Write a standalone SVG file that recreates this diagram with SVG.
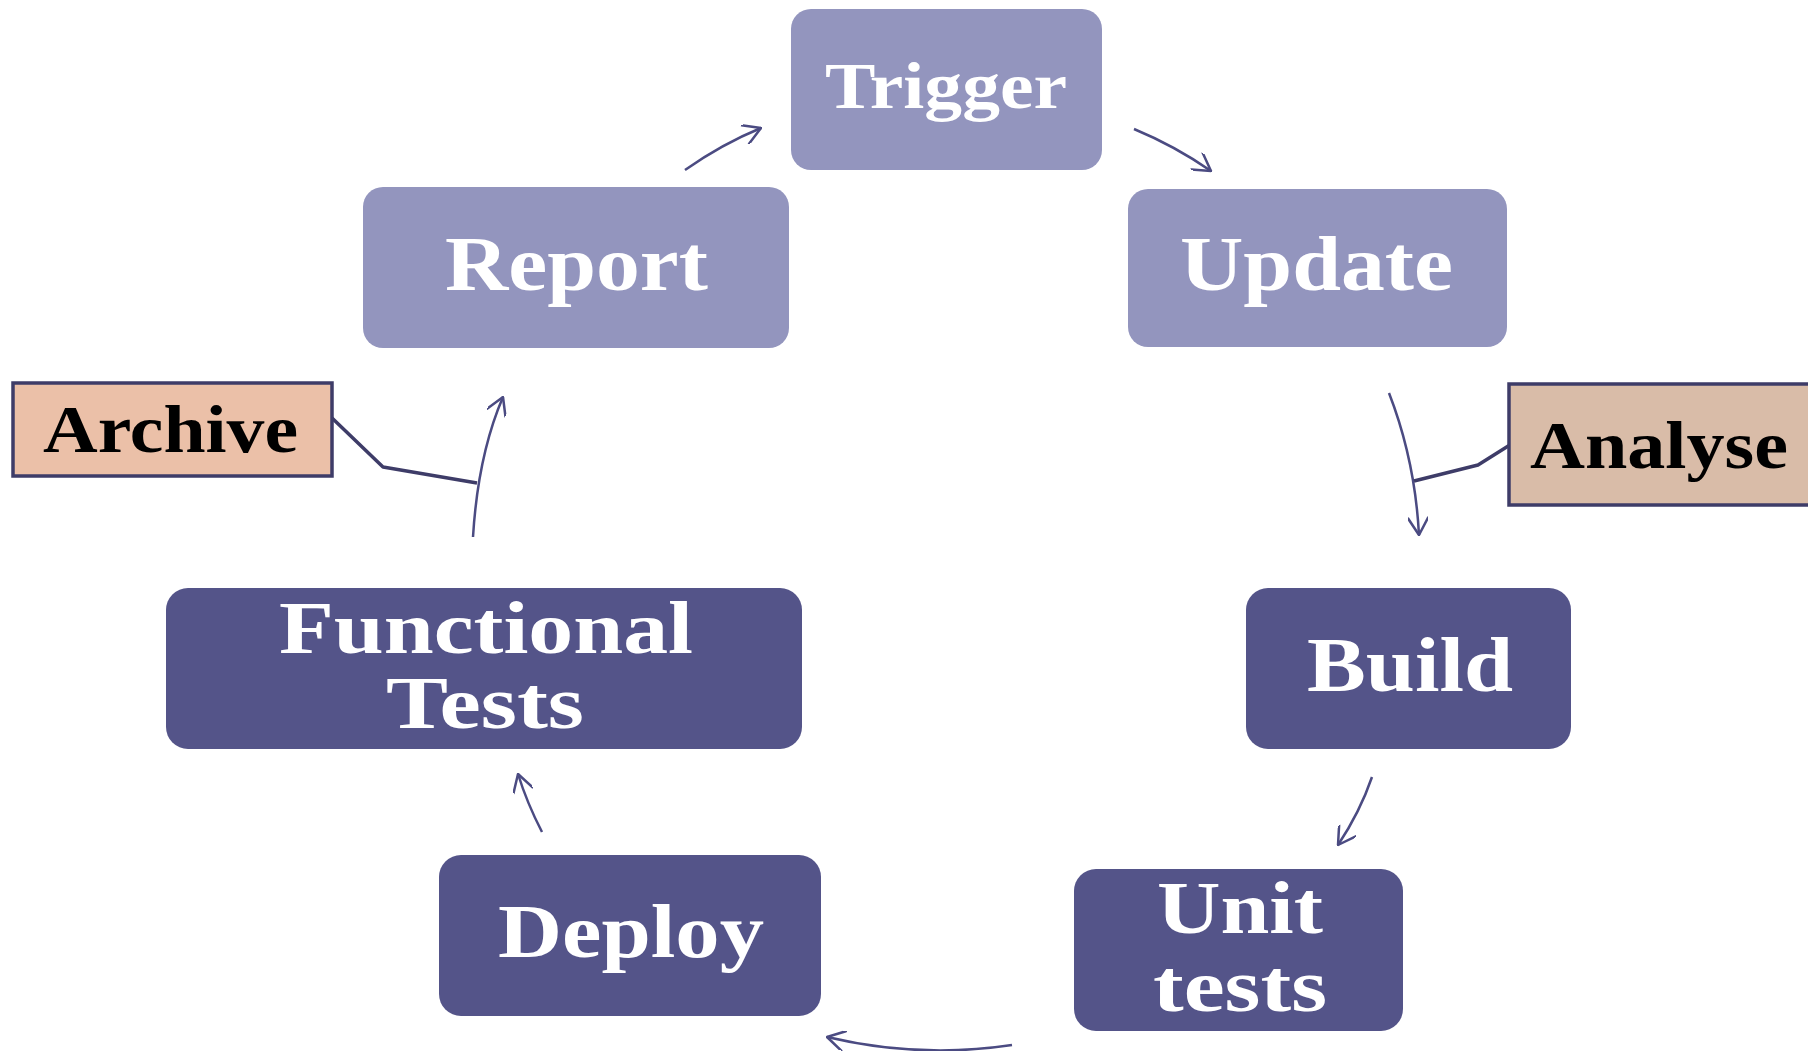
<svg xmlns="http://www.w3.org/2000/svg" width="1808" height="1051" viewBox="0 0 1808 1051">
<style>
.light{fill:#9395BE;}
.dark{fill:#545489;}
.lbl{font-family:"Liberation Serif","Times New Roman",serif;font-weight:bold;fill:#ffffff;}
.note{font-family:"Liberation Serif","Times New Roman",serif;font-weight:bold;fill:#000000;}
.box{stroke:#3E3C68;stroke-width:3.5;}
.arrow{fill:none;stroke:#4B4B82;stroke-width:2.5;marker-end:url(#head);}
.callout{fill:none;stroke:#3E3C68;stroke-width:3.5;stroke-linejoin:round;}
</style>
<defs>
<marker id="head" viewBox="0 0 20 20" refX="19" refY="10" markerWidth="20" markerHeight="20" markerUnits="userSpaceOnUse" orient="auto">
<path d="M2,0 L19,10 L2,20" fill="none" stroke="#4B4B82" stroke-width="2.5" stroke-linecap="round" stroke-linejoin="round"/>
</marker>
</defs>
<rect width="1808" height="1051" fill="#ffffff"/>
<g id="connectors">
<path class="arrow" d="M685,170 Q722,144 761,128"/>
<path class="arrow" d="M1134,129 Q1175,146 1211,171"/>
<path class="arrow" d="M1389,393 Q1415,460 1419,535"/>
<path class="arrow" d="M1372,777 Q1360,812 1338,845"/>
<path class="arrow" d="M1012,1045 Q920,1059 827,1037"/>
<path class="arrow" d="M542,832 Q527,803 518,774"/>
<path class="arrow" d="M473,537 Q478,455 503,397"/>
<path class="callout" d="M332,418 L383,467 L477,483"/>
<path class="callout" d="M1513,443 L1478,465 L1414,481"/>
</g>
<g id="trigger">
<rect class="light" x="791" y="9" width="311" height="161" rx="20"/>
<text class="lbl" x="825" y="108" font-size="65" textLength="242" lengthAdjust="spacingAndGlyphs">Trigger</text>
</g>
<g id="update">
<rect class="light" x="1128" y="189" width="379" height="158" rx="20"/>
<text class="lbl" x="1180" y="290" font-size="78" textLength="273" lengthAdjust="spacingAndGlyphs">Update</text>
</g>
<g id="report">
<rect class="light" x="363" y="187" width="426" height="161" rx="20"/>
<text class="lbl" x="445" y="290" font-size="78" textLength="263" lengthAdjust="spacingAndGlyphs">Report</text>
</g>
<g id="build">
<rect class="dark" x="1246" y="588" width="325" height="161" rx="22"/>
<text class="lbl" x="1307" y="691" font-size="78" textLength="206" lengthAdjust="spacingAndGlyphs">Build</text>
</g>
<g id="unit-tests">
<rect class="dark" x="1074" y="869" width="329" height="162" rx="22"/>
<text class="lbl" x="1157" y="933" font-size="74" textLength="166" lengthAdjust="spacingAndGlyphs">Unit</text>
<text class="lbl" x="1153" y="1011" font-size="74" textLength="174" lengthAdjust="spacingAndGlyphs">tests</text>
</g>
<g id="deploy">
<rect class="dark" x="439" y="855" width="382" height="161" rx="22"/>
<text class="lbl" x="498" y="957" font-size="77" textLength="266" lengthAdjust="spacingAndGlyphs">Deploy</text>
</g>
<g id="functional-tests">
<rect class="dark" x="166" y="588" width="636" height="161" rx="22"/>
<text class="lbl" x="279" y="653" font-size="75" textLength="414" lengthAdjust="spacingAndGlyphs">Functional</text>
<text class="lbl" x="386" y="728" font-size="75" textLength="198" lengthAdjust="spacingAndGlyphs">Tests</text>
</g>
<g id="archive">
<rect class="box" x="13" y="383" width="319" height="93" fill="#EBC0A8"/>
<text class="note" x="43" y="452" font-size="68" textLength="255" lengthAdjust="spacingAndGlyphs">Archive</text>
</g>
<g id="analyse">
<rect class="box" x="1509" y="384" width="320" height="121" fill="#D9BCA8"/>
<text class="note" x="1530" y="468" font-size="68" textLength="258" lengthAdjust="spacingAndGlyphs">Analyse</text>
</g>
</svg>
